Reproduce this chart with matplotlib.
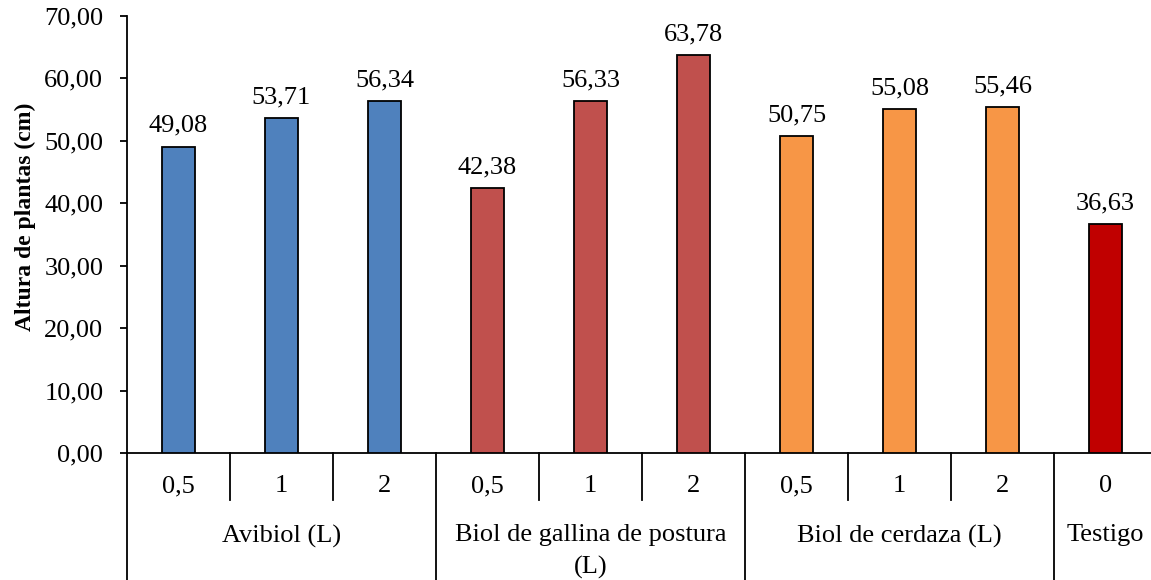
import matplotlib.pyplot as plt
import matplotlib.transforms as mtransforms

plt.rcParams['font.family'] = ['Liberation Serif', 'DejaVu Serif']

# Data: plant height (cm) by biol type and dose
doses = ['0,5', '1', '2', '0,5', '1', '2', '0,5', '1', '2', '0']
heights = [49.08, 53.71, 56.34, 42.38, 56.33, 63.78, 50.75, 55.08, 55.46, 36.63]
groups = ['Avibiol (L)', 'Biol de gallina de postura\n(L)', 'Biol de cerdaza (L)', 'Testigo']
group_sizes = [3, 3, 3, 1]
group_colors = ['#4F81BD', '#C0504D', '#F79646', '#C00000']

colors = []
for c, n in zip(group_colors, group_sizes):
    colors += [c] * n

fs = 19

fig = plt.figure(figsize=(11.51, 5.80), dpi=100)
ax = fig.add_axes([0.1103, 0.219, 0.8949, 0.7534])

x = list(range(len(heights)))
ax.bar(x, heights, width=0.32, color=colors, edgecolor='black', linewidth=1.3, zorder=3)

for xi, h in zip(x, heights):
    ax.annotate(f'{h:.2f}'.replace('.', ','), (xi, h), xytext=(0, 7),
                textcoords='offset points', ha='center', va='bottom', fontsize=fs)

ax.set_xlim(-0.5, len(heights) - 0.5)
ax.set_ylim(0, 70)
ax.set_yticks(range(0, 71, 10))
ax.set_yticklabels([f'{v},00' for v in range(0, 71, 10)], fontsize=fs)
ax.tick_params(axis='y', direction='out', length=5, width=1.3, pad=12)
ax.set_xticks([])
ax.set_ylabel('Altura de plantas (cm)', fontsize=17, fontweight='bold', va='center')
ax.yaxis.set_label_coords(-0.0985, 0.54)

for s in ['top', 'right']:
    ax.spines[s].set_visible(False)
for s in ['left', 'bottom']:
    ax.spines[s].set_linewidth(1.3)

# category axis drawn below the plot
trans = mtransforms.blended_transform_factory(ax.transData, ax.transAxes)
short_y = -0.1076
long_y = -0.29

for xi, d in zip(x, doses):
    ax.text(xi, -0.0755, d, transform=trans, ha='center', va='center', fontsize=fs)

start = 0
bounds = [-0.5]
for g, n in zip(groups, group_sizes):
    for k in range(1, n):
        xb = start + k - 0.5
        ax.plot([xb, xb], [0, short_y], transform=trans, color='black', lw=1.3, clip_on=False)
    center = start + (n - 1) / 2
    ax.text(center, -0.1635, g, transform=trans, ha='center', va='top', fontsize=fs,
            linespacing=1.55)
    start += n
    bounds.append(start - 0.5)

for xb in bounds:
    ax.plot([xb, xb], [0, long_y], transform=trans, color='black', lw=1.3, clip_on=False)

fig.savefig('out.png', dpi=100)
